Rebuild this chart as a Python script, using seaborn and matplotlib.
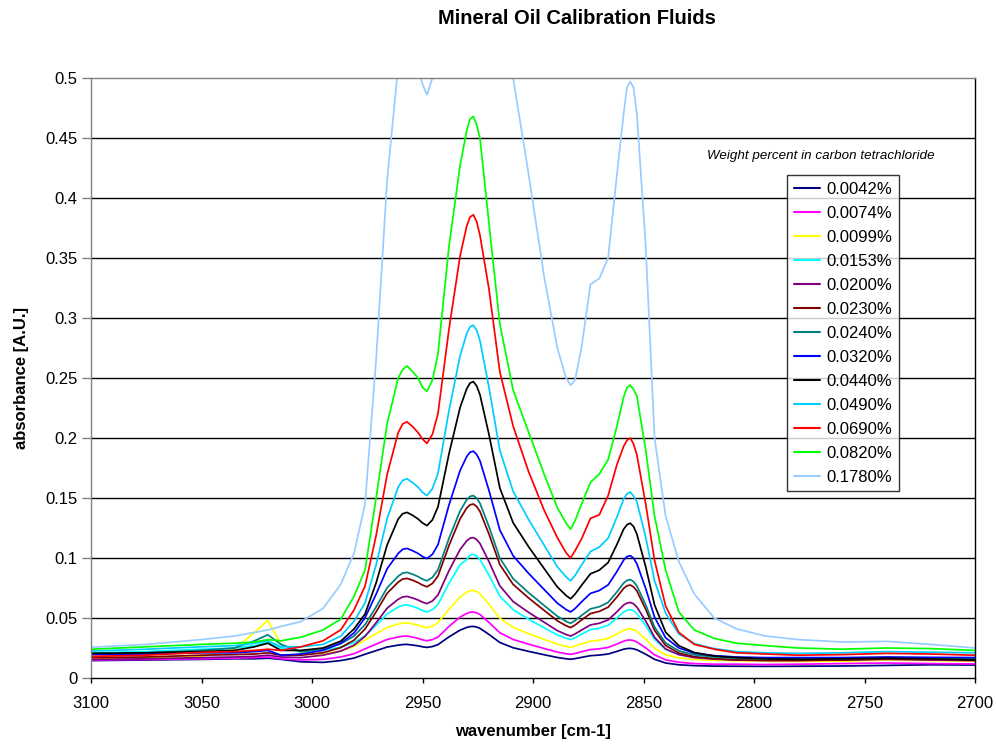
import numpy as np
import pandas as pd
import matplotlib
matplotlib.use("Agg")
import matplotlib.pyplot as plt
import seaborn as sns
from matplotlib.lines import Line2D

wavenumber = [3100, 3075, 3050, 3035, 3026, 3020, 3014, 3005, 2995, 2987, 2981, 2976, 2971, 2966,
              2961, 2959, 2957, 2954.5, 2952, 2950, 2948, 2945.5, 2943, 2938, 2933, 2930, 2928.5, 2927,
              2925.5, 2924, 2920, 2915, 2909, 2902, 2895, 2889, 2885, 2883, 2881, 2878, 2874, 2870,
              2866, 2862, 2859, 2857.5, 2856, 2854.5, 2853, 2849, 2845, 2840, 2834, 2827, 2818, 2808,
              2795, 2780, 2760, 2740, 2720, 2700]

labels = ["0.0042%", "0.0074%", "0.0099%", "0.0153%", "0.0200%", "0.0230%", "0.0240%",
          "0.0320%", "0.0440%", "0.0490%", "0.0690%", "0.0820%", "0.1780%"]

colors = ["#000080", "#FF00FF", "#FFFF00", "#00FFFF", "#800080", "#800000", "#008080",
          "#0000FF", "#000000", "#00CCFF", "#FF0000", "#00FF00", "#99CCFF"]

s0042 = [.0145, .015, .0155, .016, .016, .0165, .0155, .0135, .013, .0145, .0166, .0198, .0228, .0258,
         .0274, .02785, .028, .02745, .0268, .026, .0255, .0262, .0278, .0343, .0399, .0421, .04283, .043,
         .04245, .0414, .0364, .0296, .0252, .0222, .0194, .0171, .0160, .0156, .01615, .0172, .0186, .0191,
         .0200, .0222, .0240, .02452, .0247, .0243, .0235, .0198, .0156, .0125, .011, .0103, .0099, .0098,
         .0097, .0098, .010, .0105, .011, .0108]
s0074 = [.015, .0155, .016, .0165, .017, .0175, .016, .015, .0155, .0175, .0202, .0243, .0282, .0321,
         .0342, .0348, .035, .0341, .033, .0318, .031, .032, .0341, .043, .0507, .0538, .0548, .055,
         .0543, .0529, .0465, .0377, .0321, .0282, .0246, .0216, .0202, .0197, .0204, .0219, .0237, .0243,
         .0255, .0283, .0307, .0315, .0317, .0312, .0300, .0251, .0193, .0151, .0131, .012, .0115, .0115,
         .0112, .0115, .012, .0125, .012, .0117]
s0099 = [.016, .017, .018, .024, .038, .048, .028, .021, .020, .0226, .0262, .0317, .0369, .0421,
         .045, .0457, .046, .0451, .044, .0428, .042, .0432, .046, .0575, .0674, .0715, .0727, .073,
         .0721, .0702, .0616, .0498, .0422, .037, .0322, .0282, .0263, .0256, .0265, .0284, .0307, .0315,
         .033, .0367, .0398, .0407, .041, .0403, .0388, .0324, .0248, .0194, .0167, .0154, .0147, .0145,
         .014, .0138, .014, .015, .0145, .014]
s0153 = [.021, .022, .024, .025, .027, .030, .025, .022, .023, .0257, .0295, .0352, .0439, .0534,
         .0591, .0606, .061, .0597, .058, .0562, .055, .0569, .0612, .079, .0944, .0986, .1025, .103,
         .1016, .0987, .086, .0682, .0569, .049, .0419, .0359, .0331, .032, .0335, .0365, .0403, .0415,
         .044, .050, .055, .0565, .057, .056, .0537, .0437, .0321, .0238, .0197, .0176, .0165, .016,
         .0155, .0155, .016, .0165, .016, .0155]
s0200 = [.0155, .016, .017, .0175, .018, .019, .0175, .017, .019, .0224, .0273, .0347, .046, .0582,
         .0656, .0675, .068, .0667, .065, .0632, .062, .0642, .0692, .0895, .1071, .1143, .1165, .117,
         .1154, .1121, .0973, .0768, .0637, .0547, .0465, .0395, .0362, .035, .0367, .040, .0442, .0456,
         .0484, .0552, .0608, .0624, .063, .0618, .0591, .0475, .0339, .0242, .0194, .017, .0157, .015,
         .0145, .0145, .015, .0155, .015, .0145]
s0230 = [.017, .0175, .019, .0195, .020, .021, .019, .019, .021, .0253, .0315, .0408, .0551, .0706,
         .0799, .0824, .083, .0815, .0795, .0774, .076, .0788, .085, .1105, .1326, .1416, .1443, .145,
         .1429, .1388, .1203, .0945, .078, .0667, .0564, .0477, .0435, .042, .0441, .0484, .0537, .0555,
         .059, .0676, .0747, .0768, .0775, .0759, .0725, .0573, .0397, .0271, .0208, .0177, .0161, .015,
         .0148, .0148, .015, .016, .0155, .015]
s0240 = [.0205, .021, .023, .025, .031, .036, .028, .022, .024, .0285, .0349, .0445, .0592, .0752,
         .0848, .0874, .088, .0865, .0845, .0824, .081, .0838, .0902, .1165, .1392, .1485, .1513, .152,
         .1499, .1456, .1265, .0999, .0828, .0711, .0605, .0515, .0472, .0456, .0478, .0522, .0576, .0594,
         .063, .0718, .0791, .0813, .082, .0804, .0767, .0609, .0424, .0292, .0226, .0193, .0177, .0165,
         .016, .016, .0162, .017, .0165, .016]
s0320 = [.0195, .020, .021, .021, .022, .023, .019, .020, .023, .029, .0375, .0502, .0698, .091,
         .1038, .1072, .108, .1061, .1038, .1012, .0995, .1031, .1111, .1443, .1729, .1845, .1881, .189,
         .1863, .181, .1568, .1233, .1019, .0872, .0738, .0624, .057, .055, .0578, .0635, .0705, .0729,
         .0776, .0888, .0982, .1011, .102, .0999, .0952, .0746, .0507, .0336, .025, .0208, .0186, .0175,
         .017, .017, .017, .0175, .0172, .017]
s0440 = [.0205, .021, .022, .023, .026, .029, .023, .023, .025, .0307, .0408, .0533, .0792, .1109,
         .1324, .1369, .138, .1356, .1325, .1292, .127, .1318, .1426, .187, .2254, .241, .2458, .247,
         .2434, .2361, .2036, .1583, .1294, .1094, .0913, .0759, .0687, .066, .0698, .0773, .0868, .0899,
         .0962, .1114, .124, .1277, .129, .1262, .1199, .0927, .0609, .0382, .0269, .0212, .0183, .017,
         .016, .0155, .016, .0165, .016, .015]
s0490 = [.0225, .024, .026, .027, .029, .031, .026, .026, .028, .0349, .0473, .0625, .0942, .1329,
         .1591, .1646, .166, .1629, .159, .1548, .152, .1577, .1705, .223, .2684, .2869, .2926, .294,
         .2897, .2812, .2429, .1896, .1556, .1321, .1108, .0927, .0842, .081, .0854, .0943, .1054, .1091,
         .1165, .1343, .1491, .1535, .155, .1516, .1469, .1173, .081, .0541, .0366, .0286, .0245, .022,
         .021, .0205, .021, .022, .0215, .021]
s0690 = [.018, .019, .0214, .022, .023, .024, .023, .026, .031, .0401, .0566, .0766, .1186, .1697,
         .2044, .2117, .2135, .2095, .2045, .1991, .1955, .2031, .2203, .2908, .3517, .3765, .3841, .386,
         .3803, .369, .325, .255, .21, .172, .14, .117, .1043, .100, .106, .116, .133, .136,
         .152, .178, .193, .198, .200, .195, .186, .145, .098, .06, .038, .028, .024, .021,
         .020, .019, .0195, .0205, .020, .019]
s0820 = [.024, .026, .028, .029, .030, .032, .031, .034, .040, .049, .068, .090, .15, .212,
         .250, .257, .26, .2554, .25, .2422, .239, .2482, .27, .36, .427, .456, .4657, .468,
         .4611, .45, .38, .295, .24, .205, .17, .142, .129, .124, .131, .145, .163, .170,
         .182, .21, .234, .2418, .244, .2405, .235, .19, .135, .09, .055, .040, .033, .029,
         .027, .025, .024, .025, .0245, .023]
s1780 = [.0256, .028, .032, .035, .038, .040, .043, .047, .058, .078, .104, .145, .265, .415,
         .51, .535, .54, .53, .508, .495, .486, .50, .53, .65, .85, .93, .955, .96,
         .955, .93, .80, .63, .50, .42, .335, .275, .25, .244, .248, .276, .328, .333,
         .35, .42, .47, .492, .497, .492, .47, .36, .20, .135, .097, .07, .05, .041,
         .035, .032, .030, .0305, .028, .025]

series = [s0042, s0074, s0099, s0153, s0200, s0230, s0240, s0320, s0440, s0490, s0690, s0820, s1780]

rows = []
for lab, vals in zip(labels, series):
    assert len(vals) == len(wavenumber), (lab, len(vals))
    for w, v in zip(wavenumber, vals):
        rows.append({"wavenumber": w, "absorbance": v, "sample": lab})
df = pd.DataFrame(rows)

sns.set_theme(style="white")
plt.rcParams["font.family"] = ["Liberation Sans", "DejaVu Sans"]
plt.rcParams["text.color"] = "black"
plt.rcParams["axes.labelcolor"] = "black"
plt.rcParams["lines.solid_joinstyle"] = "round"

fig = plt.figure(figsize=(9.96, 7.44), dpi=100)
ax = fig.add_axes([91/996, 1-678/744, (975-91)/996, 600/744])

sns.lineplot(data=df, x="wavenumber", y="absorbance", hue="sample", hue_order=labels,
             palette=dict(zip(labels, colors)), linewidth=1.25, ax=ax, legend=False,
             sort=True, estimator=None)

ax.set_xlim(3100, 2700)
ax.set_ylim(0, 0.5)
yt = np.arange(0, 0.501, 0.05)
ax.set_yticks(yt)
ax.set_yticklabels([f"{v:g}" for v in np.round(yt, 2)])
xt = np.arange(3100, 2699, -50)
ax.set_xticks(xt)
ax.set_xticklabels([str(v) for v in xt])
for v in yt[1:-1]:
    ax.axhline(v, color="black", lw=1.0, zorder=0.5)
ax.spines["left"].set_color("#808080")
ax.spines["top"].set_color("#808080")
ax.spines["bottom"].set_color("black")
ax.spines["right"].set_color("black")
for s in ax.spines.values():
    s.set_linewidth(1.0)
ax.tick_params(axis="x", direction="out", length=3.6, width=1, color="black",
               labelsize=12, labelcolor="black", bottom=True, pad=9.5)
ax.tick_params(axis="y", direction="out", length=6.5, width=1, color="#808080",
               labelsize=12, labelcolor="black", left=True, pad=3)
ax.set_xlabel("wavenumber [cm-1]", fontsize=12, fontweight="bold")
ax.set_ylabel("absorbance [A.U.]", fontsize=12, fontweight="bold")
ax.xaxis.set_label_coords(0.5, (678-724)/600)
ax.yaxis.set_label_coords((29-91)/884, 0.5)

fig.text(577/996, 1-18/744, "Mineral Oil Calibration Fluids", ha="center", va="center",
         fontsize=14.5, fontweight="bold")

handles = [Line2D([0], [0], color=c, lw=1.5) for c in colors]
leg = ax.legend(handles, labels, loc="upper left", bbox_to_anchor=((787-91)/884, (678-175)/600),
                frameon=True, fontsize=12, handlelength=1.6, handletextpad=0.35,
                labelspacing=0.54, borderpad=0.4, borderaxespad=0, fancybox=False)
leg.get_frame().set_edgecolor("black")
leg.get_frame().set_linewidth(1.0)
fig.text(821/996, 1-156/744, "Weight percent in carbon tetrachloride", ha="center", va="center",
         fontsize=9.6, style="italic")

fig.savefig("out.png", dpi=100)
